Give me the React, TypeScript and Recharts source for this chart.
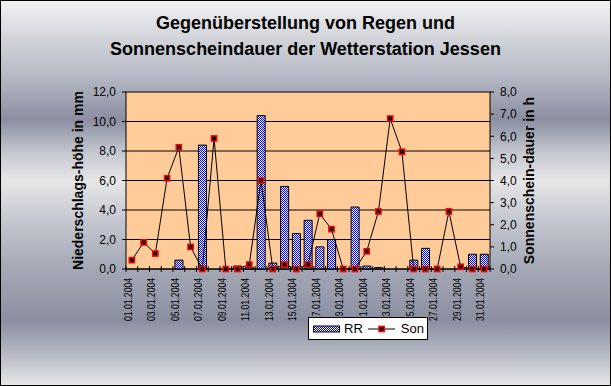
import { ComposedChart, Bar, Line, XAxis, YAxis, CartesianGrid, Legend } from "recharts";

const dates = [
  "01.01.2004", "02.01.2004", "03.01.2004", "04.01.2004", "05.01.2004", "06.01.2004", "07.01.2004", "08.01.2004",
  "09.01.2004", "10.01.2004", "11.01.2004", "12.01.2004", "13.01.2004", "14.01.2004", "15.01.2004", "16.01.2004",
  "17.01.2004", "18.01.2004", "19.01.2004", "20.01.2004", "21.01.2004", "22.01.2004", "23.01.2004", "24.01.2004",
  "25.01.2004", "26.01.2004", "27.01.2004", "28.01.2004", "29.01.2004", "30.01.2004", "31.01.2004",
];

// Niederschlag in mm
const rainMm = [
  0, 0, 0, 0, 0.6, 0, 8.4, 0, 0, 0.2, 0.1, 10.4, 0.4, 5.6, 2.4, 3.3,
  1.5, 2.0, 0, 4.2, 0.2, 0.1, 0, 0, 0.6, 1.4, 0, 0, 0, 1.0, 1.0,
];

// Sonnenscheindauer in h
const sunHours = [
  0.4, 1.2, 0.7, 4.1, 5.5, 1.0, 0, 5.9, 0, 0, 0.2, 4.0, 0, 0.2, 0, 0.2,
  2.5, 1.8, 0, 0, 0.8, 2.6, 6.8, 5.3, 0, 0, 0, 2.6, 0.1, 0, 0,
];

const leftTicks = [0, 2, 4, 6, 8, 10, 12];
const rightTicks = [0, 1, 2, 3, 4, 5, 6, 7, 8];

const data = dates.map((d, i) => ({ date: d, RR: rainMm[i], Son: sunHours[i] }));

const W = 611;
const H = 386;
const LEFT_W = 126;
const RIGHT_W = 121;
const TOP = 92;
const X_H = 117;
const FONT = "'Liberation Sans', Arial, sans-serif";
const band = (W - LEFT_W - RIGHT_W) / dates.length;

const fmt = (v: number) => v.toFixed(1).replace(".", ",");

function XTick({ x, y, payload, index }: any) {
  const i = payload?.index ?? index;
  return (
    <g>
      <line x1={x - band / 2} x2={x - band / 2} y1={y - 3} y2={y + 3} stroke="#000" />
      {i === dates.length - 1 && <line x1={x + band / 2} x2={x + band / 2} y1={y - 3} y2={y + 3} stroke="#000" />}
      {i % 2 === 0 && (
        <text x={x} y={y + 9} transform={`rotate(-90, ${x}, ${y + 9})`} textAnchor="end" fontSize={10.5} textLength={43} lengthAdjust="spacingAndGlyphs" fill="#000" fontFamily={FONT}>
          {payload.value}
        </text>
      )}
    </g>
  );
}

function SquareDot({ cx, cy }: any) {
  if (cx == null || cy == null) return null;
  return <rect x={cx - 2.6} y={cy - 2.6} width={5.2} height={5.2} fill="#000" stroke="#ff0000" strokeWidth={1.5} />;
}

function AxisTitle({ viewBox, value, dx }: any) {
  const cx = viewBox.x + dx;
  const cy = viewBox.y + viewBox.height / 2;
  return (
    <text x={cx} y={cy} transform={`rotate(-90, ${cx}, ${cy})`} textAnchor="middle" dominantBaseline="central" fontSize={14} fontWeight="bold" fill="#000" fontFamily={FONT}>
      {value}
    </text>
  );
}

function LegendBox() {
  return (
    <div style={{ width: 118, height: 21, background: "#fff", border: "1px solid #000", display: "flex", alignItems: "center", fontFamily: FONT, fontSize: 13, color: "#000" }}>
      <svg width={31} height={10} style={{ marginLeft: 4 }}>
        <defs>
          <pattern id="checkerLegend" width={2} height={2} patternUnits="userSpaceOnUse">
            <rect width={2} height={2} fill="#fff" />
            <rect width={1} height={1} fill="#0000ff" />
            <rect x={1} y={1} width={1} height={1} fill="#0000ff" />
          </pattern>
        </defs>
        <rect x={0.5} y={2} width={26} height={6} fill="url(#checkerLegend)" stroke="#000" />
      </svg>
      <span>RR</span>
      <svg width={34} height={10} style={{ marginLeft: 4 }}>
        <line x1={1} x2={28} y1={5} y2={5} stroke="#000" />
        <rect x={12} y={2.4} width={5.2} height={5.2} fill="#000" stroke="#ff0000" strokeWidth={1.5} />
      </svg>
      <span>Son</span>
    </div>
  );
}

export default function App() {
  return (
    <div
      style={{
        position: "absolute",
        left: 0,
        top: 0,
        width: W,
        height: H,
        boxShadow: "inset 0 0 0 1px #000",
        background:
          "linear-gradient(to bottom, #f2f2f2 0%, #d2d4da 10%, #b4b8c4 20%, #8a8ea0 31%, #c8cad2 40%, #e6e6e6 47%, #c8cad2 56%, #a8acb8 68%, #8a8ea0 83%, #b8bac4 92%, #e8e8e8 100%)",
        fontFamily: FONT,
      }}
    >
      <div style={{ position: "absolute", left: 0, top: 10, width: W, textAlign: "center", fontSize: 18, fontWeight: "bold", lineHeight: "26px", color: "#000" }}>
        Gegenüberstellung von Regen und
        <br />
        Sonnenscheindauer der Wetterstation Jessen
      </div>
      <ComposedChart width={W} height={H} data={data} margin={{ top: TOP, right: 0, bottom: 0, left: 0 }} style={{ position: "absolute", left: 0, top: 0 }}>
        <defs>
          <pattern id="checker" width={2} height={2} patternUnits="userSpaceOnUse">
            <rect width={2} height={2} fill="#fff" />
            <rect width={1} height={1} fill="#0000ff" />
            <rect x={1} y={1} width={1} height={1} fill="#0000ff" />
          </pattern>
        </defs>
        <CartesianGrid yAxisId="l" vertical={false} stroke="#000" strokeWidth={1} fill="#ffcc99" fillOpacity={1} />
        <XAxis
          dataKey="date"
          height={X_H}
          interval={0}
          tickSize={0}
          tickMargin={0}
          tick={<XTick />}
          axisLine={{ stroke: "#000" }}
          tickLine={false}
        />
        <YAxis
          yAxisId="l"
          width={LEFT_W}
          domain={[0, 12]}
          ticks={leftTicks}
          tickFormatter={fmt}
          tickSize={4}
          tickMargin={6}
          axisLine={{ stroke: "#000" }}
          tickLine={{ stroke: "#000" }}
          tick={{ fill: "#000", fontSize: 12, fontFamily: FONT }}
          label={<AxisTitle value="Niederschlags-höhe in mm" dx={78} />}
        />
        <YAxis
          yAxisId="r"
          orientation="right"
          width={RIGHT_W}
          domain={[0, 8]}
          ticks={rightTicks}
          tickFormatter={fmt}
          tickSize={4}
          tickMargin={6}
          axisLine={{ stroke: "#000" }}
          tickLine={{ stroke: "#000" }}
          tick={{ fill: "#000", fontSize: 12, fontFamily: FONT }}
          label={<AxisTitle value="Sonnenschein-dauer in h" dx={39} />}
        />
        <Legend
          layout="horizontal"
          verticalAlign="middle"
          align="center"
          content={<LegendBox />}
          wrapperStyle={{ left: 308, top: 317, width: 120, height: 23 }}
        />
        <Bar yAxisId="l" dataKey="RR" fill="url(#checker)" stroke="#000" strokeWidth={1} barSize={8} isAnimationActive={false} />
        <Line
          yAxisId="r"
          dataKey="Son"
          type="linear"
          stroke="#000"
          strokeWidth={1}
          dot={<SquareDot />}
          activeDot={false}
          isAnimationActive={false}
        />
      </ComposedChart>
    </div>
  );
}
